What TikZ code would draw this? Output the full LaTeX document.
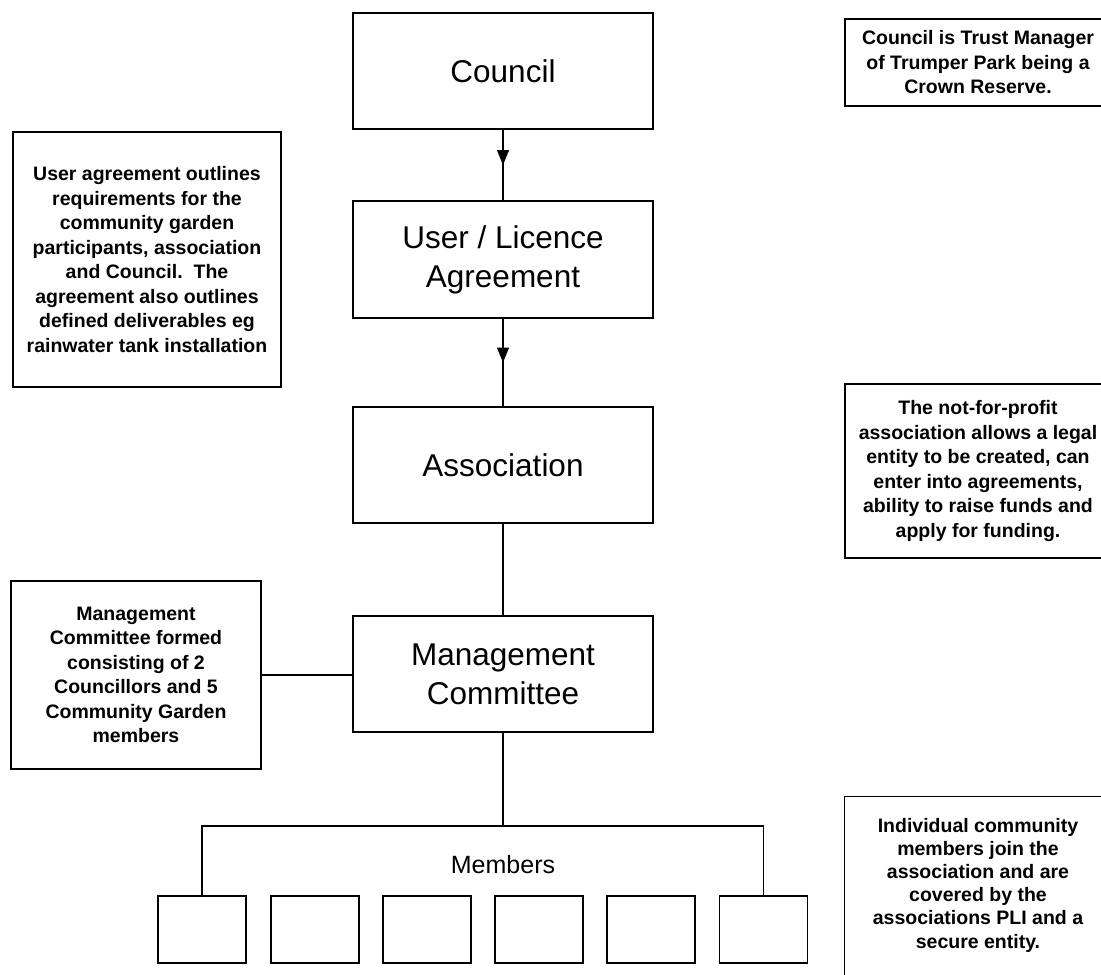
\documentclass[tikz,border=0pt]{standalone}
\usepackage{fontspec}
\setmainfont{Liberation Sans}
\usetikzlibrary{arrows.meta,decorations.markings}
\tikzset{
  mainbox/.style={draw=black, line width=1.6pt, minimum width=300pt, minimum height=116pt,
    inner sep=0pt, align=center, font=\fontsize{31.5}{39}\selectfont},
  notebox/.style={draw=black, line width=1.4pt, inner sep=0pt, align=center,
    font=\bfseries\fontsize{19.5}{24.5}\selectfont},
  memberbox/.style={draw=black, line width=1.6pt, minimum width=88pt, minimum height=67pt, inner sep=0pt},
  conn/.style={draw=black, line width=1.2pt},
  midarrow/.style={conn, postaction={decorate},
    decoration={markings, mark=at position 0.5 with {\arrow{Triangle[width=12pt,length=15pt]}}}}
}
\begin{document}
\begin{tikzpicture}[x=1pt,y=-1pt]
\useasboundingbox (0,0) rectangle (1101,975);
\clip (0,0) rectangle (1101,975);
\fill[white] (0,0) rectangle (1101,975);

% main chain
\node[mainbox] (council) at (503,71) {Council};
\node[mainbox, minimum height=117pt] (user) at (503,259.5) {User / Licence\\Agreement};
\node[mainbox] (assoc) at (503,465) {Association};
\node[mainbox] (mc) at (503,674) {Management\\Committee};

% left notes
\node[notebox, minimum width=268pt, minimum height=255pt] (note1) at (147,259.5)
  {User agreement outlines\\requirements for the\\community garden\\participants, association\\and Council.\ \ The\\agreement also outlines\\defined deliverables eg\\rainwater tank installation};
\node[notebox, minimum width=250pt, minimum height=188pt] (note2) at (136,675)
  {Management\\Committee formed\\consisting of 2\\Councillors and 5\\Community Garden\\members};

% right notes
\node[notebox, minimum width=266pt, minimum height=87pt] (rnote1) at (978,62.5)
  {Council is Trust Manager\\of Trumper Park being a\\Crown Reserve.};
\node[notebox, minimum width=266pt, minimum height=174pt] (rnote2) at (978,471)
  {The not-for-profit\\association allows a legal\\entity to be created, can\\enter into agreements,\\ability to raise funds and\\apply for funding.};
\node[notebox, draw=none, minimum width=266pt, minimum height=176pt,
      font=\bfseries\fontsize{19.5}{23.2}\selectfont] (rnote3) at (978,885)
  {Individual community\\members join the\\association and are\\covered by the\\associations PLI and a\\secure entity.};
\draw[line width=1.4pt] ([yshift=-20pt]rnote3.south west) rectangle (rnote3.north east);

% members
\node[memberbox] (m1) at (202,929.5) {};
\node[memberbox] (m2) at (315,929.5) {};
\node[memberbox] (m3) at (427,929.5) {};
\node[memberbox] (m4) at (539,929.5) {};
\node[memberbox] (m5) at (651,929.5) {};
\node[memberbox] (m6) at (763.5,929.5) {};
\node[font=\fontsize{25}{29}\selectfont] (memlabel) at (503,865) {Members};
\coordinate (junction) at (503,826);

% connectors
\draw[midarrow] (council.south) -- (user.north);
\draw[midarrow] (user.south) -- (assoc.north);
\draw[conn] (assoc.south) -- (mc.north);
\draw[conn] (note2.east) -- (note2.east -| mc.west);
\draw[conn] (mc.south) -- (junction);
\draw[conn] (m1.north) |- (junction) -| (m6.north);
\end{tikzpicture}
\end{document}
